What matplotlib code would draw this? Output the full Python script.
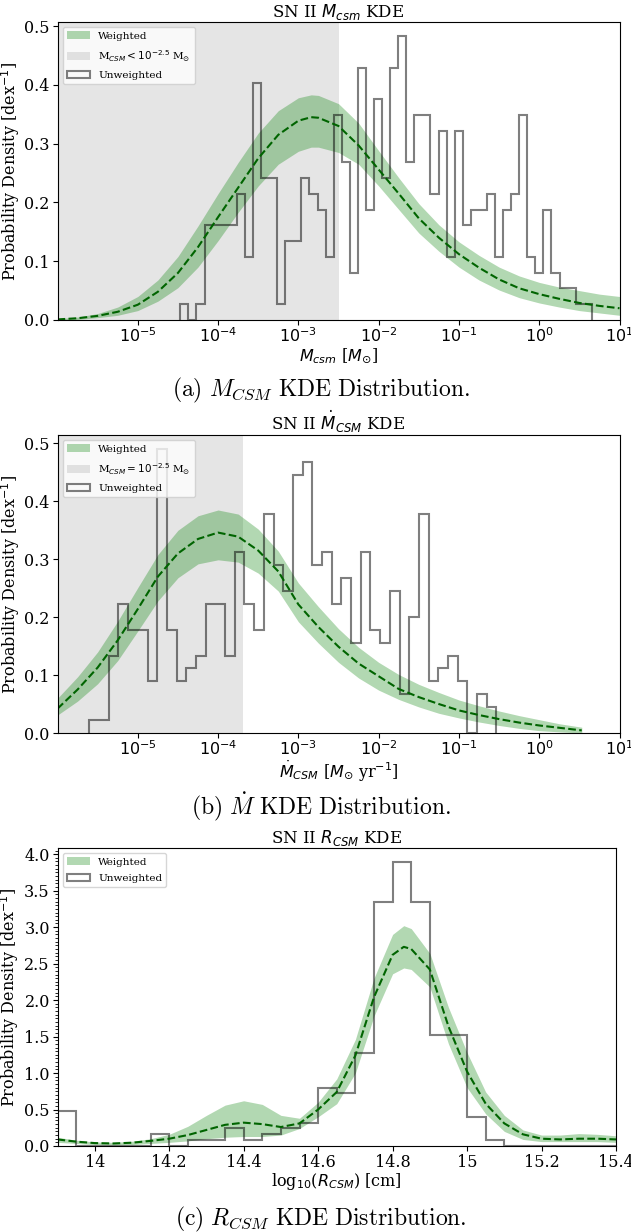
import numpy as np
import matplotlib.pyplot as plt
from matplotlib.patches import Patch
from matplotlib.ticker import FixedLocator, FuncFormatter, MultipleLocator, NullLocator

plt.rcParams['font.family'] = 'serif'
plt.rcParams['font.serif'] = ['DejaVu Serif']
plt.rcParams['mathtext.fontset'] = 'dejavusans'

# ---------------- (a) M_csm ----------------
mcsm_edge0 = -4.47      # log10 of first bin edge
mcsm_width = 0.1005     # dex
mcsm_counts = [1, 0, 1, 6, 6, 6, 6, 8, 4, 15, 9, 9, 1, 5, 5, 9, 8, 7, 4, 13,
               10, 3, 16, 7, 14, 9, 16, 18, 10, 13, 13, 8, 12, 4, 12, 6, 7, 7, 8, 4,
               7, 8, 13, 4, 3, 7, 3, 2, 2, 1, 1]
mcsm_cut = -2.5

mcsm_logx = [-6.0, -5.75, -5.5, -5.25, -5.0, -4.75, -4.5, -4.25, -4.0, -3.75, -3.5, -3.25,
             -3.0, -2.84, -2.75, -2.5, -2.25, -2.0, -1.75, -1.5, -1.25, -1.0, -0.75, -0.5,
             -0.25, 0.0, 0.25, 0.5, 0.75, 1.0]
mcsm_med = [0.001, 0.003, 0.007, 0.014, 0.026, 0.048, 0.080, 0.124, 0.175, 0.225, 0.275, 0.315,
            0.339, 0.345, 0.344, 0.330, 0.297, 0.256, 0.215, 0.173, 0.140, 0.112, 0.089, 0.069,
            0.054, 0.044, 0.036, 0.029, 0.024, 0.020]
mcsm_hi = [0.002, 0.005, 0.011, 0.022, 0.040, 0.068, 0.108, 0.160, 0.215, 0.268, 0.318, 0.356,
           0.378, 0.383, 0.382, 0.368, 0.335, 0.288, 0.242, 0.198, 0.162, 0.133, 0.110, 0.090,
           0.075, 0.064, 0.056, 0.050, 0.044, 0.040]
mcsm_lo = [0.0, 0.001, 0.004, 0.008, 0.016, 0.032, 0.055, 0.090, 0.135, 0.183, 0.228, 0.265,
           0.287, 0.294, 0.294, 0.285, 0.265, 0.228, 0.188, 0.148, 0.117, 0.090, 0.068, 0.051,
           0.038, 0.029, 0.022, 0.016, 0.012, 0.008]

# ---------------- (b) Mdot ----------------
mdot_edge0 = -5.6025
mdot_width = 0.1207
mdot_counts = [1, 1, 6, 10, 8, 8, 4, 22, 8, 4, 5, 6, 10, 10, 6, 14, 10, 8, 17, 13,
               11, 20, 21, 13, 14, 10, 12, 7, 14, 8, 7, 11, 3, 9, 17, 4, 5, 6, 4, 0,
               3, 2]
mdot_cut = -3.69

mdot_logx = [-6.0, -5.75, -5.5, -5.25, -5.0, -4.75, -4.5, -4.25, -4.0, -3.75, -3.5, -3.25,
             -3.0, -2.75, -2.5, -2.25, -2.0, -1.75, -1.5, -1.25, -1.0, -0.75, -0.5, -0.25,
             0.0, 0.25, 0.53]
mdot_med = [0.042, 0.075, 0.113, 0.160, 0.214, 0.270, 0.310, 0.335, 0.346, 0.339, 0.315, 0.279,
            0.222, 0.183, 0.149, 0.120, 0.098, 0.076, 0.062, 0.050, 0.039, 0.031, 0.024, 0.018,
            0.013, 0.009, 0.0045]
mdot_hi = [0.060, 0.097, 0.140, 0.193, 0.251, 0.308, 0.350, 0.375, 0.385, 0.378, 0.352, 0.314,
           0.259, 0.218, 0.180, 0.148, 0.122, 0.101, 0.084, 0.070, 0.057, 0.047, 0.038, 0.030,
           0.023, 0.016, 0.010]
mdot_lo = [0.031, 0.055, 0.085, 0.125, 0.176, 0.228, 0.268, 0.292, 0.299, 0.295, 0.276, 0.245,
           0.192, 0.155, 0.122, 0.095, 0.074, 0.058, 0.045, 0.034, 0.026, 0.019, 0.013, 0.008,
           0.004, 0.002, 0.0]

# ---------------- (c) R_csm ----------------
rcsm_edge0 = 13.9
rcsm_width = 0.05
rcsm_dens = [0.48, 0, 0, 0, 0, 0.16, 0, 0.08, 0.08, 0.24, 0.08, 0.16, 0.24, 0.32, 0.80,
             0.72, 1.28, 3.34, 3.89, 3.34, 1.52, 1.52, 0.40, 0.08, 0, 0, 0, 0, 0, 0]

rcsm_x = [13.9, 13.95, 14.0, 14.05, 14.1, 14.15, 14.2, 14.25, 14.3, 14.35, 14.4, 14.45, 14.5,
          14.55, 14.6, 14.65, 14.7, 14.75, 14.8, 14.83, 14.85, 14.9, 14.95, 15.0, 15.05, 15.1,
          15.15, 15.2, 15.25, 15.3, 15.35, 15.4]
rcsm_med = [0.09, 0.06, 0.04, 0.035, 0.045, 0.07, 0.10, 0.15, 0.22, 0.29, 0.32, 0.30, 0.26,
            0.31, 0.50, 0.74, 1.24, 2.04, 2.62, 2.73, 2.70, 2.42, 1.64, 1.02, 0.58, 0.31,
            0.16, 0.10, 0.09, 0.10, 0.10, 0.09]
rcsm_hi = [0.12, 0.08, 0.055, 0.05, 0.065, 0.10, 0.16, 0.27, 0.42, 0.56, 0.62, 0.57, 0.42,
           0.38, 0.60, 0.92, 1.46, 2.30, 2.90, 3.02, 2.98, 2.64, 1.90, 1.28, 0.74, 0.42,
           0.22, 0.15, 0.15, 0.17, 0.16, 0.14]
rcsm_lo = [0.05, 0.035, 0.02, 0.015, 0.02, 0.035, 0.05, 0.07, 0.10, 0.12, 0.13, 0.13, 0.15,
           0.24, 0.40, 0.58, 1.00, 1.78, 2.36, 2.44, 2.42, 2.18, 1.40, 0.80, 0.44, 0.20,
           0.09, 0.06, 0.06, 0.06, 0.06, 0.05]

log_ticks = [-5, -4, -3, -2, -1, 0, 1]
r_ticks = [14.0, 14.2, 14.4, 14.6, 14.8, 15.0, 15.2, 15.4]

W, H = 631, 1232
fig = plt.figure(figsize=(W / 100, H / 100), dpi=100)


def px_axes(left, top, right, bottom):
    return fig.add_axes([left / W, 1 - bottom / H, (right - left) / W, (bottom - top) / H])


def to_density(counts, width):
    counts = np.asarray(counts, dtype=float)
    return counts / (counts.sum() * width)


def draw_panel(ax, edges, heights, x, med, lo, hi):
    ax.fill_between(x, lo, hi, color='green', alpha=0.3, lw=0)
    ax.plot(x, med, color='darkgreen', ls='--', lw=1.5)
    ax.stairs(heights, edges, baseline=0, color='black', alpha=0.5, lw=1.5)


weighted = Patch(facecolor='green', alpha=0.3, label='Weighted')
unweighted = Patch(facecolor='none', edgecolor='black', alpha=0.5, lw=1.5, label='Unweighted')
leg_kw = dict(loc='upper left', fontsize=7.5, labelspacing=0.7, handlelength=2.2)

# panel a
ax1 = px_axes(57.5, 22, 619.5, 320)
edges = mcsm_edge0 + mcsm_width * np.arange(len(mcsm_counts) + 1)
h1 = to_density(mcsm_counts, mcsm_width)
ax1.axvspan(-6, mcsm_cut, color='gray', alpha=0.2, lw=0)
draw_panel(ax1, edges, h1, mcsm_logx, mcsm_med, mcsm_lo, mcsm_hi)
ax1.set_xlim(-6, 1)
ax1.set_ylim(0, h1.max() * 1.05)
ax1.set_title(r'SN II $M_{csm}$ KDE', fontsize=12, pad=3)
ax1.set_xlabel(r'$M_{csm}$ [$M_{\odot}$]', fontsize=11.5, labelpad=0)
shade1 = Patch(facecolor='gray', alpha=0.2, label=r'M$_{CSM} < 10^{-2.5}$ M$_{\odot}$')
ax1.legend(handles=[weighted, shade1, unweighted], **leg_kw)

# panel b
ax2 = px_axes(57.5, 435, 619.5, 733)
edges = mdot_edge0 + mdot_width * np.arange(len(mdot_counts) + 1)
h2 = to_density(mdot_counts, mdot_width)
ax2.axvspan(-6, mdot_cut, color='gray', alpha=0.2, lw=0)
draw_panel(ax2, edges, h2, mdot_logx, mdot_med, mdot_lo, mdot_hi)
ax2.set_xlim(-6, 1)
ax2.set_ylim(0, h2.max() * 1.05)
ax2.set_title(r'SN II $\dot{M}_{CSM}$ KDE', fontsize=12, pad=3)
ax2.set_xlabel(r'$\dot{M}_{CSM}$ [$M_{\odot}$ yr$^{-1}$]', fontsize=11.5, labelpad=0)
shade2 = Patch(facecolor='gray', alpha=0.2, label=r'M$_{CSM} = 10^{-2.5}$ M$_{\odot}$')
ax2.legend(handles=[weighted, shade2, unweighted], **leg_kw)

for ax in (ax1, ax2):
    ax.xaxis.set_major_locator(FixedLocator(log_ticks))
    ax.xaxis.set_major_formatter(FuncFormatter(lambda v, p: r'$10^{%d}$' % round(v)))
    ax.xaxis.set_minor_locator(NullLocator())

# panel c
ax3 = px_axes(57.5, 848, 616, 1146)
edges = rcsm_edge0 + rcsm_width * np.arange(len(rcsm_dens) + 1)
draw_panel(ax3, edges, rcsm_dens, rcsm_x, rcsm_med, rcsm_lo, rcsm_hi)
ax3.set_xlim(13.9, 15.4)
ax3.set_ylim(0, max(rcsm_dens) * 1.05)
ax3.xaxis.set_major_locator(FixedLocator(r_ticks))
ax3.xaxis.set_major_formatter(FuncFormatter(lambda v, p: '%g' % round(v, 1)))
ax3.yaxis.set_major_locator(MultipleLocator(0.5))
ax3.yaxis.set_major_formatter(FuncFormatter(lambda v, p: '%.1f' % v))
ax3.yaxis.set_minor_locator(MultipleLocator(0.05))
ax3.set_title(r'SN II $R_{CSM}$ KDE', fontsize=12, pad=3)
ax3.set_xlabel(r'log$_{10}$($R_{CSM}$) [cm]', fontsize=11.5, labelpad=0)
ax3.legend(handles=[weighted, unweighted], **leg_kw)

for ax in (ax1, ax2, ax3):
    ax.set_ylabel(r'Probability Density [dex$^{-1}$]', fontsize=11.5, labelpad=2)
    ax.tick_params(labelsize=11.5, pad=2)

captions = [(390, r'$\mathrm{(a)}\ M_{CSM}\ \mathrm{KDE\ Distribution.}$'),
            (807, r'$\mathrm{(b)}\ \dot{M}\ \mathrm{KDE\ Distribution.}$'),
            (1219, r'$\mathrm{(c)}\ R_{CSM}\ \mathrm{KDE\ Distribution.}$')]
for y, txt in captions:
    fig.text(321 / W, 1 - y / H, txt, ha='center', va='center', fontsize=17,
             math_fontfamily='cm')

fig.savefig('out.png', dpi=100)
